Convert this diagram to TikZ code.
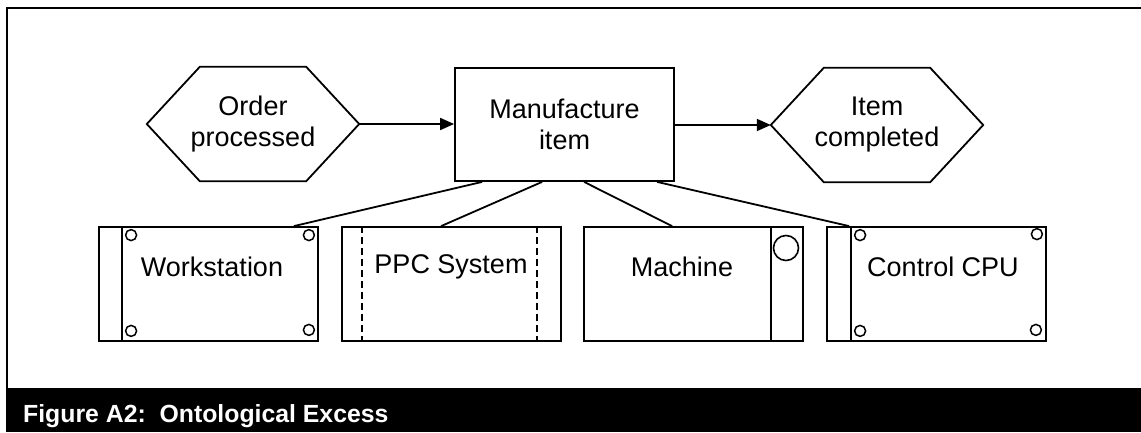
\documentclass[tikz,border=0pt]{standalone}
\usepackage{fontspec}
\setmainfont{Liberation Sans}
\usetikzlibrary{arrows.meta,calc}
\tikzset{
  ln/.style={line width=1.8pt},
  txt/.style={font=\fontsize{27}{31}\selectfont, align=center, inner sep=0pt},
  hexbox/.style={minimum width=212pt, minimum height=114pt, inner sep=0pt, align=center, font=\fontsize{27}{31}\selectfont},
  procbox/.style={draw, ln, minimum width=219pt, minimum height=113pt, inner sep=0pt, align=center, font=\fontsize{27}{31}\selectfont},
  devbox/.style={draw, ln, minimum width=219pt, minimum height=114pt, inner sep=0pt},
  flow/.style={ln, -{Triangle[length=14pt,width=12pt]}},
  link/.style={ln},
  hole/.style={draw, line width=1.5pt, circle, minimum size=11pt, inner sep=0pt},
  bighole/.style={draw, line width=1.6pt, circle, minimum size=25pt, inner sep=0pt},
  caption/.style={font=\fontsize{24.8}{28}\selectfont\bfseries, text=white, inner sep=0pt, anchor=base west}
}
\begin{document}
\begin{tikzpicture}[x=1pt,y=-1pt]
\useasboundingbox (0,0) rectangle (1141,432);
% frame
\fill[black] (6,388) rectangle (1141,432);
\draw[line width=2pt] (1141,8) -- (7,8) -- (7,388);
\node[caption] (cap) at (23,422) {Figure A2:\ \ Ontological Excess};

% top row
\node[hexbox] (op) at (253,124) {Order\\processed};
\draw[ln] (op.west) -- ([xshift=53pt]op.north west) -- ([xshift=-53pt]op.north east) -- (op.east) -- ([xshift=-53pt]op.south east) -- ([xshift=53pt]op.south west) -- cycle;
\node[procbox] (mi) at (564.5,124.5) {Manufacture\\item};
\node[hexbox] (ic) at (877,125) {Item\\completed};
\draw[ln] (ic.west) -- ([xshift=53pt]ic.north west) -- ([xshift=-53pt]ic.north east) -- (ic.east) -- ([xshift=-53pt]ic.south east) -- ([xshift=53pt]ic.south west) -- cycle;
\draw[flow] (op.east) -- (mi.west |- op.east);
\draw[flow] (mi.east |- ic.west) -- (ic.west);

% bottom row
\node[devbox] (ws) at (208.5,284) {};
\node[txt] (wst) at (212,267) {Workstation};
\draw[ln] ([xshift=24pt]ws.north west) -- ([xshift=24pt]ws.south west);
\node[hole] (ws1) at ($(ws.north west)+(33,9)$) {};
\node[hole] (ws2) at ($(ws.north east)+(-10,9)$) {};
\node[hole] (ws3) at ($(ws.south west)+(33,-11)$) {};
\node[hole] (ws4) at ($(ws.south east)+(-10,-12)$) {};

\node[devbox] (pp) at (451.5,284) {};
\node[txt] (ppt) at (451,267) {PPC System};
\draw[ln, dash pattern=on 7pt off 4pt] ([xshift=21pt]pp.north west) -- ([xshift=21pt]pp.south west);
\draw[ln, dash pattern=on 7pt off 4pt] ([xshift=-25pt]pp.north east) -- ([xshift=-25pt]pp.south east);

\node[devbox] (ma) at (693.5,284) {};
\node[txt] (mat) at (682,267) {Machine};
\draw[ln] ([xshift=-33pt]ma.north east) -- ([xshift=-33pt]ma.south east);
\node[bighole] (ma1) at (786,248) {};

\node[devbox] (cc) at (936.5,284) {};
\node[txt] (cct) at (943,267) {Control CPU};
\draw[ln] ([xshift=25pt]cc.north west) -- ([xshift=25pt]cc.south west);
\node[hole] (cc1) at ($(cc.north west)+(34,9)$) {};
\node[hole] (cc2) at ($(cc.north east)+(-10,8)$) {};
\node[hole] (cc3) at ($(cc.south west)+(34,-11)$) {};
\node[hole] (cc4) at ($(cc.south east)+(-11,-12)$) {};

% links
\draw[link] ($(mi.south west)+(28,0)$) -- ($(ws.north east)+(-25,0)$);
\draw[link] ($(mi.south west)+(88,0)$) -- ($(pp.north west)+(100,0)$);
\draw[link] ($(mi.south west)+(130,0)$) -- ($(ma.north west)+(89,0)$);
\draw[link] ($(mi.south west)+(203,0)$) -- ($(cc.north west)+(23,0)$);
\end{tikzpicture}
\end{document}
